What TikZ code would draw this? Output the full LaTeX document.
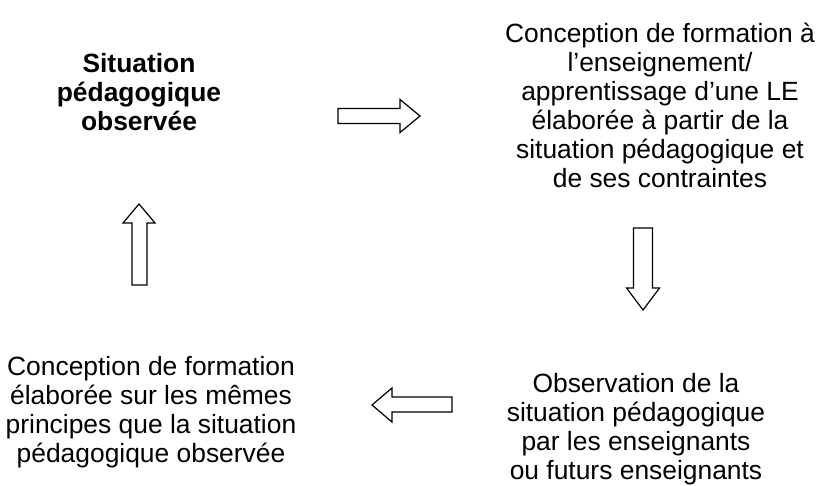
\documentclass[tikz,border=0pt]{standalone}
\usepackage{fontspec}
\setmainfont{Liberation Sans}
\usetikzlibrary{calc}

\tikzset{
  boxtext/.style={align=center, inner sep=0pt, anchor=base,
    font=\fontsize{26.4}{29}\selectfont},
  blockarrow/.style={draw=black, fill=white, line width=1.2pt, line join=miter}
}

\begin{document}
\begin{tikzpicture}[x=1pt, y=-1pt]
\useasboundingbox (0, 0) rectangle (819, 486);

% anchor base = baseline of the last line
\node[boxtext, font=\fontsize{26.4}{29}\selectfont\bfseries] (observed) at (139, 131)
  {Situation\\p\'edagogique\\observ\'ee};
\node[boxtext] (design) at (660, 188)
  {Conception de formation \`a\\l'enseignement/\\apprentissage d'une LE\\%
   \'elabor\'ee \`a partir de la\\situation p\'edagogique et\\de ses contraintes};
\node[boxtext] (watching) at (636, 479)
  {Observation de la\\situation p\'edagogique\\par les enseignants\\ou futurs enseignants};
\node[boxtext] (training) at (151, 462)
  {Conception de formation\\\'elabor\'ee sur les m\^emes\\principes que la situation\\p\'edagogique observ\'ee};

% right
\draw[blockarrow] (338, 108.5) -- (400, 108.5) -- (400, 99.5) -- (420, 116)
  -- (400, 132.5) -- (400, 123.5) -- (338, 123.5) -- cycle;
% down
\draw[blockarrow] (633.5, 228) -- (652.5, 228) -- (652.5, 288) -- (659.5, 288)
  -- (643, 310) -- (626.5, 288) -- (633.5, 288) -- cycle;
% left
\draw[blockarrow] (452, 397) -- (392, 397) -- (392, 388) -- (372, 405)
  -- (392, 422) -- (392, 412) -- (452, 412) -- cycle;
% up
\draw[blockarrow] (132, 285) -- (132, 223) -- (123, 223) -- (139, 204)
  -- (155, 223) -- (147, 223) -- (147, 285) -- cycle;
\end{tikzpicture}
\end{document}
